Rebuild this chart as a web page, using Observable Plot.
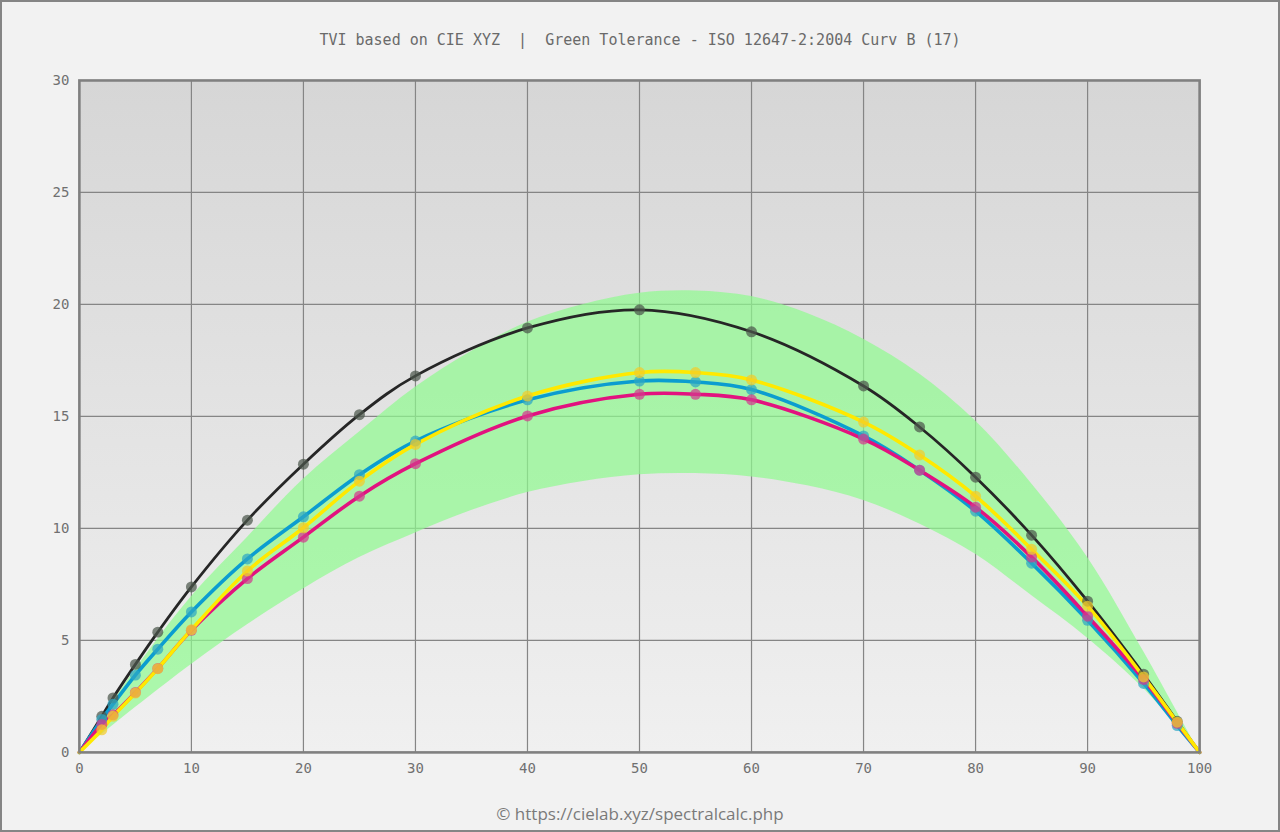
<!DOCTYPE html>
<html>
<head>
<meta charset="utf-8">
<script src="https://cdn.jsdelivr.net/npm/d3@7"></script>
<script src="https://cdn.jsdelivr.net/npm/@observablehq/plot@0.6"></script>
<style>
  html, body { margin: 0; padding: 0; background: #f2f2f2; }
  #page { position: relative; width: 1280px; height: 832px; box-sizing: border-box; border: 2px solid #858585; background: #f2f2f2; overflow: hidden; }
  #title { position: absolute; left: -2px; width: 1280px; top: 29px; text-align: center; font: 15px "DejaVu Sans Mono", "Liberation Mono", monospace; color: #6a6a6a; white-space: pre; }
  #chart { position: absolute; left: -2px; top: 57px; }
  #caption { position: absolute; left: -2px; width: 1280px; top: 800px; text-align: center; font: 17px "Open Sans", "Noto Sans", sans-serif; color: #7a7a7a; }
</style>
</head>
<body>
<div id="page">
  <div id="title">TVI based on CIE XYZ  |  Green Tolerance - ISO 12647-2:2004 Curv B (17)</div>
  <div id="chart"></div>
  <div id="caption">© https://cielab.xyz/spectralcalc.php</div>
</div>
<script>
// Tolerance band (ISO 12647-2 Curve B)
const bandX     = [0, 2, 5, 10, 15, 20, 25, 30, 35, 40, 45, 50, 55, 60, 65, 70, 75, 80, 85, 90, 95, 98, 100];
const bandUpper = [0, 1.5, 3.7, 6.95, 9.6, 12.2, 14.3, 16.3, 17.9, 19.2, 20.0, 20.5, 20.6, 20.35, 19.6, 18.45, 16.9, 14.8, 12.0, 8.7, 4.5, 1.8, 0];
const bandLower = [0, 0.8, 2.0, 3.93, 5.7, 7.3, 8.7, 9.8, 10.8, 11.6, 12.1, 12.4, 12.45, 12.3, 11.9, 11.25, 10.2, 8.85, 7.0, 5.1, 2.85, 1.15, 0];

// Measured TVI series
const blackX = [0, 2, 3, 5, 7, 10, 15, 20, 25, 30, 40, 50, 60, 70, 75, 80, 85, 90, 95, 98, 100];
const blackY = [0, 1.61, 2.43, 3.93, 5.37, 7.39, 10.37, 12.87, 15.08, 16.81, 18.95, 19.76, 18.78, 16.36, 14.53, 12.29, 9.7, 6.75, 3.49, 1.39, 0];

const cmyX    = [0, 2, 3, 5, 7, 10, 15, 20, 25, 30, 40, 50, 55, 60, 70, 75, 80, 85, 90, 95, 98, 100];
const cyanY    = [0, 1.47, 2.15, 3.45, 4.61, 6.27, 8.64, 10.52, 12.4, 13.9, 15.74, 16.58, 16.54, 16.2, 14.13, 12.6, 10.77, 8.45, 5.9, 3.08, 1.2, 0];
const magentaY = [0, 1.25, 1.68, 2.68, 3.75, 5.45, 7.76, 9.61, 11.44, 12.89, 15.02, 15.99, 15.99, 15.74, 13.99, 12.6, 10.95, 8.72, 6.08, 3.26, 1.3, 0];
const yellowY  = [0, 1.01, 1.61, 2.65, 3.74, 5.48, 8.1, 10.03, 12.11, 13.75, 15.91, 16.96, 16.96, 16.63, 14.75, 13.28, 11.44, 9.07, 6.53, 3.37, 1.35, 0];

const xTicks = [0, 10, 20, 30, 40, 50, 60, 70, 80, 90, 100];
const yTicks = [0, 5, 10, 15, 20, 25, 30];
const xGrid = [10, 20, 30, 40, 50, 60, 70, 80, 90];
const yGrid = [5, 10, 15, 20, 25];

const band = bandX.map((x, i) => ({x, lo: bandLower[i], hi: bandUpper[i]}));
const toPts = (xs, ys, name) => xs.map((x, i) => ({x, y: ys[i], name}));
const black = toPts(blackX, blackY, "K");
const cyan = toPts(cmyX, cyanY, "C");
const magenta = toPts(cmyX, magentaY, "M");
const yellow = toPts(cmyX, yellowY, "Y");

const series = [
  {data: black,   line: "#262626", dot: "#4c584c", w: 2.8},
  {data: cyan,    line: "#0b9dd0", dot: "#2ea6c4", w: 3.6},
  {data: magenta, line: "#e2127f", dot: "#d33a8e", w: 3.6},
  {data: yellow,  line: "#ffe900", dot: "#f2cc2a", w: 3.6}
];

const font = '"DejaVu Sans Mono", "Liberation Mono", monospace';

const marks = [
  Plot.frame({fill: "url(#bgGrad)", stroke: null}),
  Plot.ruleX(xGrid, {stroke: "#858585", strokeWidth: 1.2}),
  Plot.ruleY(yGrid, {stroke: "#858585", strokeWidth: 1.2}),
  Plot.areaY(band, {x: "x", y1: "lo", y2: "hi", fill: "#8ffb8f", fillOpacity: 0.7, curve: "catmull-rom"}),
];
for (const s of series) {
  marks.push(Plot.line(s.data, {x: "x", y: "y", stroke: s.line, strokeWidth: s.w, curve: "catmull-rom"}));
}
for (const s of series) {
  marks.push(Plot.dot(s.data.filter(d => d.x > 0 && d.x < 100), {x: "x", y: "y", r: 5.5, fill: s.dot, fillOpacity: 0.72, stroke: null}));
}
marks.push(Plot.frame({stroke: "#808080", strokeWidth: 2.6}));
marks.push(Plot.axisX(xTicks, {tickSize: 0, tickPadding: 11, fontSize: 14, fontFamily: font, fill: "#707070", label: null}));
marks.push(Plot.axisY(yTicks, {tickSize: 0, tickPadding: 10, fontSize: 14, fontFamily: font, fill: "#707070", label: null}));

const svg = Plot.plot({
  width: 1280,
  height: 734,
  marginTop: 21,
  marginBottom: 40,
  marginLeft: 79,
  marginRight: 79,
  style: {background: "transparent", overflow: "visible"},
  x: {domain: [0, 100], label: null},
  y: {domain: [0, 30], label: null},
  marks
});

const ns = "http://www.w3.org/2000/svg";
const defs = document.createElementNS(ns, "defs");
const grad = document.createElementNS(ns, "linearGradient");
grad.setAttribute("id", "bgGrad");
grad.setAttribute("x1", "0"); grad.setAttribute("y1", "0");
grad.setAttribute("x2", "0"); grad.setAttribute("y2", "1");
[["0", "#d6d6d6"], ["1", "#f0f0f0"]].forEach(([o, c]) => {
  const st = document.createElementNS(ns, "stop");
  st.setAttribute("offset", o); st.setAttribute("stop-color", c);
  grad.appendChild(st);
});
defs.appendChild(grad);
svg.insertBefore(defs, svg.firstChild);
document.getElementById("chart").appendChild(svg);
</script>
</body>
</html>
